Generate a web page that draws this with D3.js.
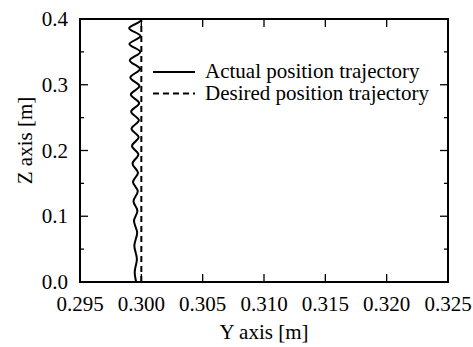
<!DOCTYPE html>
<html>
<head>
<meta charset="utf-8">
<script src="https://cdn.jsdelivr.net/npm/d3@7"></script>
<style>
  body { margin: 0; background: #fff; }
</style>
</head>
<body>
<div id="chart"></div>
<script>
// turning points of the actual trajectory (bottom to top)
const actualZ = [0.000, 0.015, 0.035, 0.055, 0.075, 0.093, 0.108, 0.123, 0.138, 0.152,
  0.166, 0.180, 0.194, 0.207, 0.220, 0.233, 0.246, 0.259, 0.272, 0.285,
  0.298, 0.311, 0.324, 0.337, 0.350, 0.362, 0.374, 0.386, 0.398, 0.400];
const actualY = [0.29958, 0.29946, 0.29964, 0.29943, 0.29966, 0.29940, 0.29968, 0.29936, 0.29971, 0.29932,
  0.29973, 0.29928, 0.29976, 0.29924, 0.29978, 0.29920, 0.29980, 0.29917, 0.29982, 0.29914,
  0.29985, 0.29910, 0.29988, 0.29906, 0.29991, 0.29903, 0.29993, 0.29901, 0.29995, 0.29993];
const desiredZ = [0.0, 0.4];
const desiredY = [0.300, 0.300];

const xTicks = [0.295, 0.300, 0.305, 0.310, 0.315, 0.320, 0.325];
const yTicks = [0.0, 0.1, 0.2, 0.3, 0.4];
const yMinor = [0.05, 0.15, 0.25, 0.35];
const legendLabels = ["Actual position trajectory", "Desired position trajectory"];

const W = 473, H = 347;
const plotL = 80, plotR = 448, plotT = 19, plotB = 282;
const FONT = "'Liberation Serif', 'Times New Roman', serif";

const svg = d3.select("#chart").append("svg")
  .attr("width", W).attr("height", H)
  .attr("font-family", FONT);

const x = d3.scaleLinear().domain([0.295, 0.325]).range([plotL, plotR]);
const y = d3.scaleLinear().domain([0, 0.4]).range([plotB, plotT]);

// ticks, drawn inward on all four sides
function tickLines(vals, len, horiz) {
  vals.forEach(v => {
    if (horiz) {
      svg.append("line").attr("x1", x(v)).attr("x2", x(v)).attr("y1", plotB).attr("y2", plotB - len)
        .attr("stroke", "#000").attr("stroke-width", 1.3);
      svg.append("line").attr("x1", x(v)).attr("x2", x(v)).attr("y1", plotT).attr("y2", plotT + len)
        .attr("stroke", "#000").attr("stroke-width", 1.3);
    } else {
      svg.append("line").attr("y1", y(v)).attr("y2", y(v)).attr("x1", plotL).attr("x2", plotL + len)
        .attr("stroke", "#000").attr("stroke-width", 1.3);
      svg.append("line").attr("y1", y(v)).attr("y2", y(v)).attr("x1", plotR).attr("x2", plotR - len)
        .attr("stroke", "#000").attr("stroke-width", 1.3);
    }
  });
}
tickLines(xTicks, 8, true);
tickLines(yTicks, 8, false);
tickLines(yMinor, 4, false);

svg.append("g").selectAll("text").data(xTicks).join("text")
  .attr("x", d => x(d)).attr("y", 311)
  .attr("text-anchor", "middle").attr("font-size", 21)
  .text(d => d.toFixed(3));

svg.append("g").selectAll("text").data(yTicks).join("text")
  .attr("x", 68).attr("y", d => y(d) + 7)
  .attr("text-anchor", "end").attr("font-size", 21)
  .text(d => d.toFixed(1));

svg.append("text").attr("x", (plotL + plotR) / 2).attr("y", 339)
  .attr("text-anchor", "middle").attr("font-size", 21).text("Y axis [m]");

svg.append("text").attr("transform", `translate(32,${(plotT + plotB) / 2 - 10}) rotate(-90)`)
  .attr("text-anchor", "middle").attr("font-size", 21).text("Z axis [m]");

// data lines
const line = d3.line().x(d => x(d[0])).y(d => y(d[1]));
const actual = actualY.map((v, i) => [v, actualZ[i]]);
const desired = desiredY.map((v, i) => [v, desiredZ[i]]);

svg.append("path").datum(desired)
  .attr("d", line).attr("fill", "none").attr("stroke", "#000")
  .attr("stroke-width", 2).attr("stroke-dasharray", "6,4");

svg.append("path").datum(actual)
  .attr("d", line.curve(d3.curveMonotoneY)).attr("fill", "none").attr("stroke", "#000")
  .attr("stroke-width", 2);

// frame
svg.append("rect").attr("x", plotL).attr("y", plotT)
  .attr("width", plotR - plotL).attr("height", plotB - plotT)
  .attr("fill", "none").attr("stroke", "#000").attr("stroke-width", 2);

// legend
const lg = svg.append("g");
legendLabels.forEach((lab, i) => {
  const ly = 72 + i * 21.5;
  lg.append("line").attr("x1", 153).attr("x2", 195).attr("y1", ly).attr("y2", ly)
    .attr("stroke", "#000").attr("stroke-width", 2)
    .attr("stroke-dasharray", i === 1 ? "6,4" : null);
  lg.append("text").attr("x", 205).attr("y", ly + 6).attr("font-size", 21).text(lab);
});
</script>
</body>
</html>
